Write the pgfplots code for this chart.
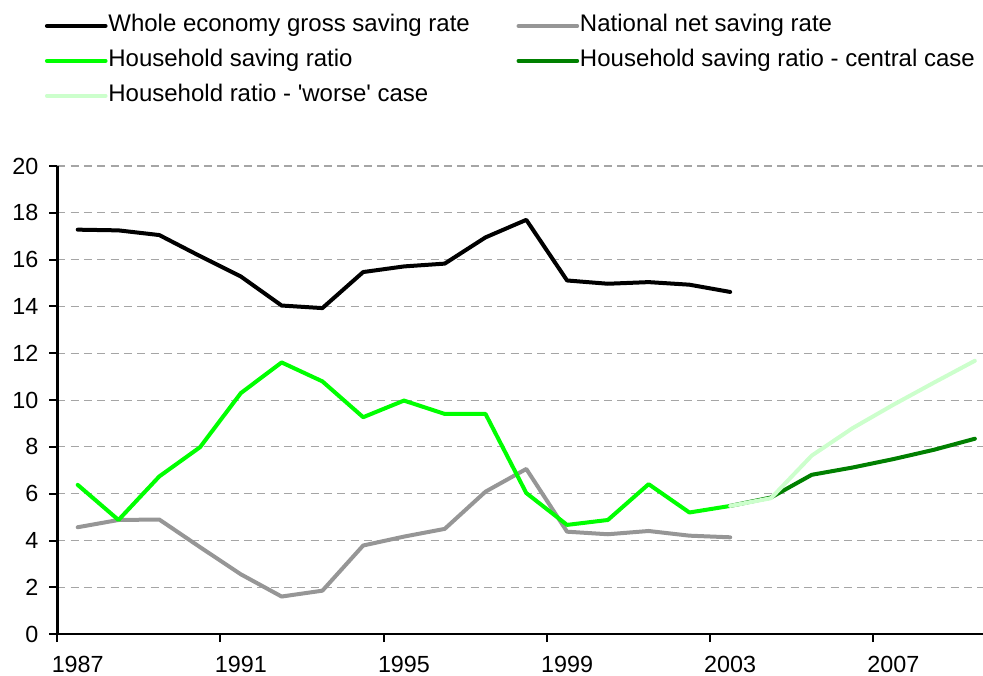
\documentclass[border=0pt]{standalone}
\usepackage{pgfplots}
\pgfplotsset{compat=1.18}
\usepackage{fontspec}
\setmainfont{Liberation Sans}
\usetikzlibrary{calc}
\definecolor{cgrey}{RGB}{150,150,150}
\definecolor{cgreen}{RGB}{0,255,0}
\definecolor{cdark}{RGB}{0,128,0}
\definecolor{clight}{RGB}{204,255,204}
\definecolor{cgrid}{RGB}{165,165,165}
\begin{document}
\begin{tikzpicture}
\begin{axis}[
  name=ax,
  scale only axis,
  width=694.3pt, height=351.2pt,
  xmin=1986.5, xmax=2009.2,
  ymin=0, ymax=20,
  axis x line*=bottom, axis y line*=left,
  axis line style={line width=1.8pt, black},
  xtick={1986.5,1990.5,1994.5,1998.5,2002.5,2006.5},
  xticklabels={1987,1991,1995,1999,2003,2007},
  ytick={0,2,...,20},
  tick align=outside,
  major tick length=6pt,
  every tick/.style={black, line width=1.5pt},
  /pgf/number format/assume math mode=true,
  xticklabel style={font=\fontsize{17.5pt}{20pt}\selectfont, inner sep=0pt, text depth=0pt, anchor=north, xshift=15.3pt, yshift=-10.5pt},
  yticklabel style={font=\fontsize{17.5pt}{20pt}\selectfont, inner sep=0pt, anchor=east, xshift=-8pt},
  ymajorgrids,
  grid style={cgrid, line width=0.8pt, dash pattern=on 6pt off 4pt},
  clip=false,
  legend columns=2,
  legend cell align=left,
  legend image code/.code={\draw[#1] (0pt,0pt) -- (44pt,0pt);},
  legend style={draw=none, fill=none,
    at={(axis description cs:-0.018,1.331)}, anchor=north west,
    font=\fontsize{18pt}{21pt}\selectfont,
    nodes={inner sep=0pt, text height=13.5pt, text depth=4.5pt},
    row sep=8.2pt,
    /tikz/every odd column/.append style={column sep=0.6pt},
    /tikz/every even column/.append style={column sep=35pt}},
  every axis plot/.append style={line width=3pt, line join=round, line cap=round},
]
\addplot[black] coordinates {
(1987,17.28)(1988,17.25)(1989,17.05)(1990,16.15)(1991,15.28)(1992,14.04)(1993,13.93)(1994,15.47)(1995,15.71)(1996,15.83)(1997,16.95)(1998,17.70)(1999,15.11)(2000,14.97)(2001,15.04)(2002,14.93)(2003,14.62)};
\addlegendentry{Whole economy gross saving rate}
\addplot[cgrey] coordinates {
(1987,4.57)(1988,4.88)(1989,4.90)(1990,3.72)(1991,2.56)(1992,1.61)(1993,1.86)(1994,3.79)(1995,4.17)(1996,4.50)(1997,6.09)(1998,7.06)(1999,4.38)(2000,4.27)(2001,4.41)(2002,4.21)(2003,4.14)};
\addlegendentry{National net saving rate}
\addplot[cgreen] coordinates {
(1987,6.38)(1988,4.88)(1989,6.74)(1990,7.99)(1991,10.30)(1992,11.61)(1993,10.80)(1994,9.27)(1995,9.98)(1996,9.41)(1997,9.41)(1998,6.03)(1999,4.67)(2000,4.88)(2001,6.41)(2002,5.20)(2003,5.48)};
\addlegendentry{Household saving ratio}
\addplot[cdark] coordinates {
(2003,5.48)(2004,5.84)(2005,6.81)(2006,7.12)(2007,7.48)(2008,7.88)(2009,8.35)};
\addlegendentry{Household saving ratio - central case}
\addplot[clight] coordinates {
(2003,5.48)(2004,5.81)(2005,7.63)(2006,8.80)(2007,9.80)(2008,10.75)(2009,11.68)};
\addlegendentry{Household ratio - \textquotesingle worse\textquotesingle\ case}
\coordinate (bl) at (rel axis cs:0,0);
\coordinate (tr) at (rel axis cs:1,1);
\end{axis}
\pgfresetboundingbox
\path ($(bl)+(-43pt,-31.3pt)$) rectangle ($(tr)+(0pt,124.5pt)$);
\end{tikzpicture}
\end{document}
